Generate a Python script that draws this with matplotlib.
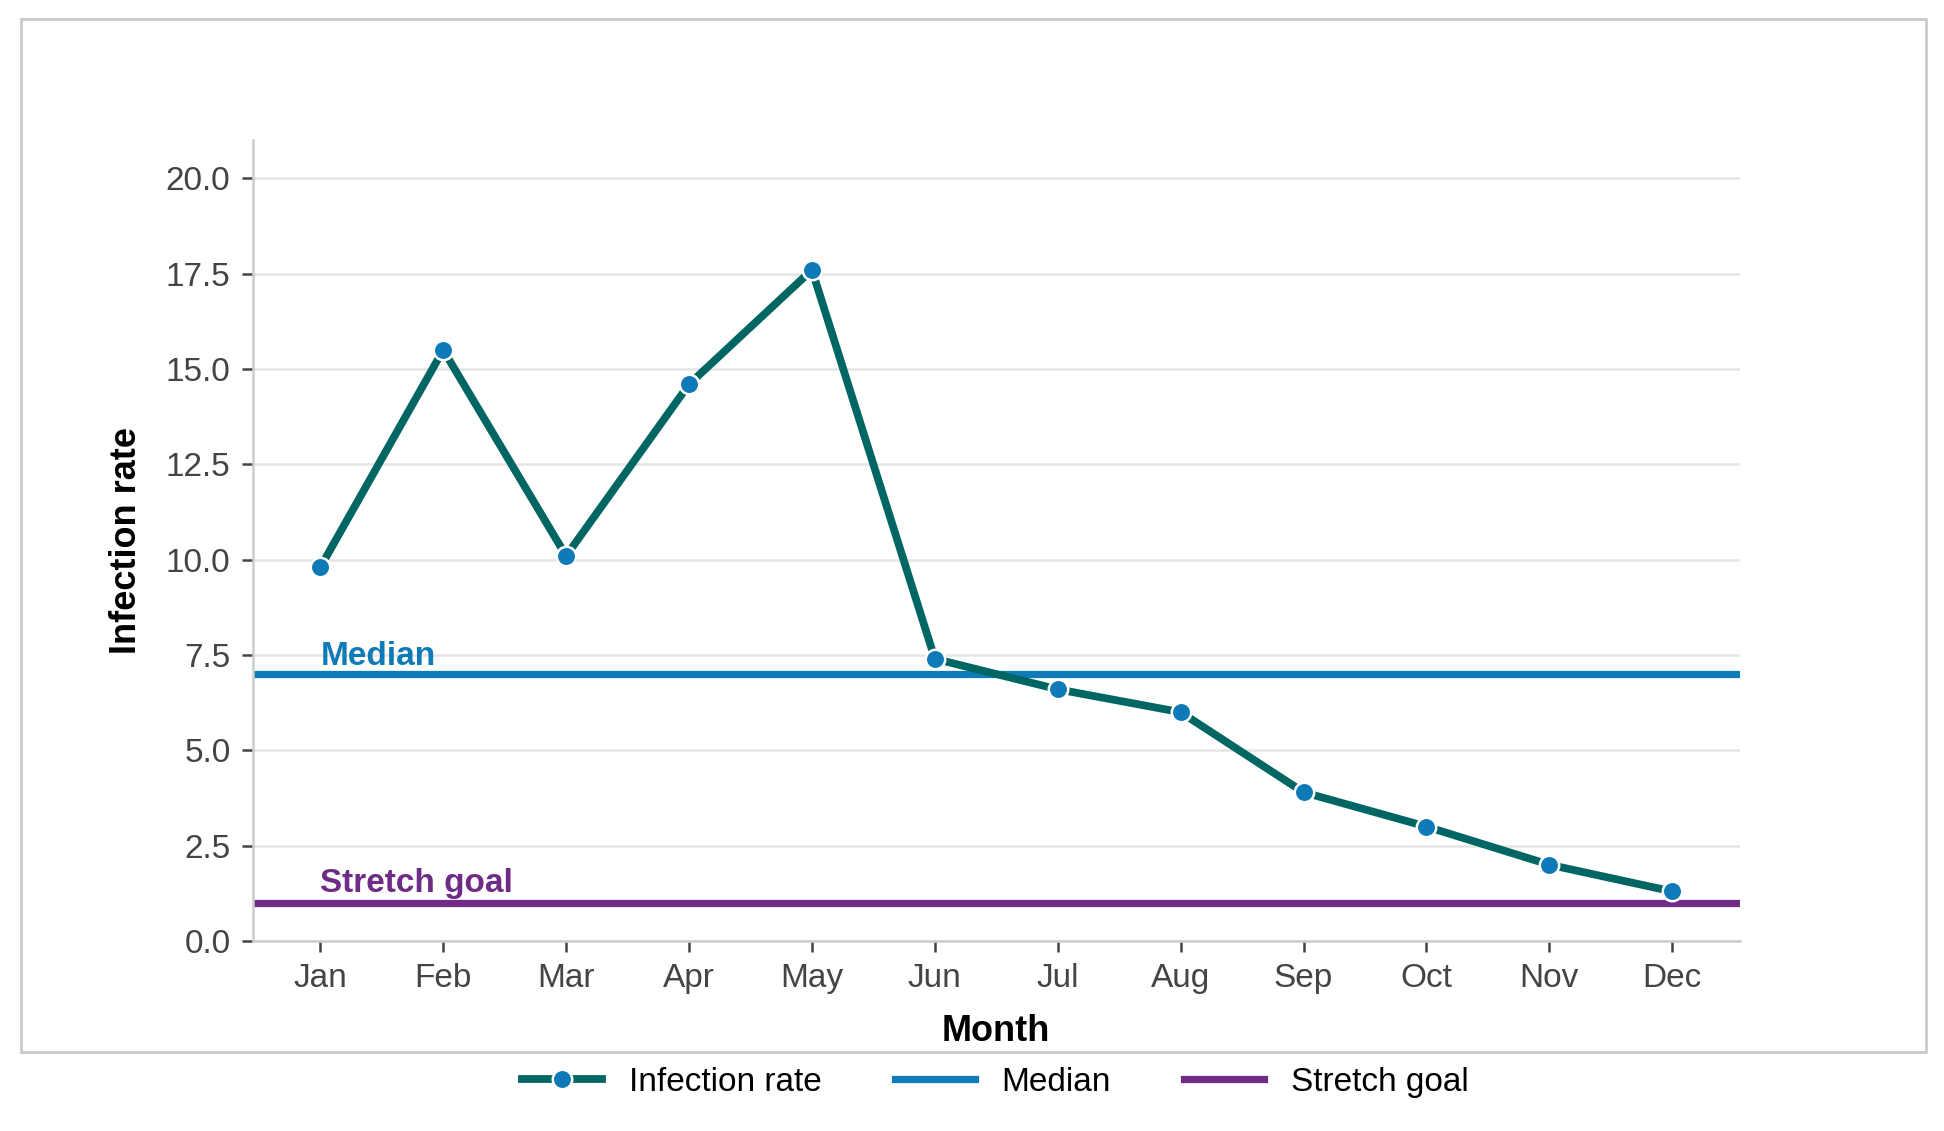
import numpy as np
import matplotlib.pyplot as plt
from matplotlib.patches import Rectangle

plt.rcParams['font.family'] = ['Liberation Sans', 'DejaVu Sans']

months = ['Jan', 'Feb', 'Mar', 'Apr', 'May', 'Jun', 'Jul', 'Aug', 'Sep', 'Oct', 'Nov', 'Dec']
infection_rate = [9.8, 15.5, 10.1, 14.6, 17.6, 7.4, 6.6, 6.0, 3.9, 3.0, 2.0, 1.3]
median_value = 7.0
stretch_goal = 1.0

teal = '#006663'
blue = '#0f7ab8'
purple = '#6f2c87'

fig = plt.figure(figsize=(9.72, 5.655), dpi=200)
ax = fig.add_axes([0.130, 0.168, 0.765, 0.708])

# grey frame round the plot area
fig.patches.append(Rectangle((0.0108, 0.0699), 0.980, 0.913, transform=fig.transFigure,
                             fill=False, edgecolor='#cccccc', linewidth=1.0, zorder=0))

x = np.arange(len(months))
ax.axhline(median_value, color=blue, lw=2.6, zorder=2, label='Median')
ax.axhline(stretch_goal, color=purple, lw=2.6, zorder=2, label='Stretch goal')
ax.plot(x, infection_rate, color=teal, lw=2.8, marker='o', markersize=7,
        markerfacecolor=blue, markeredgecolor='white', markeredgewidth=0.9,
        zorder=3, label='Infection rate')

ax.text(0, median_value + 0.05, 'Median', color=blue, fontsize=12, fontweight='bold',
        ha='left', va='bottom')
ax.text(0, stretch_goal + 0.1, 'Stretch goal', color=purple, fontsize=12, fontweight='bold',
        ha='left', va='bottom')

ax.set_xlim(-0.55, 11.55)
ax.set_ylim(0, 21)
ax.set_yticks(np.arange(0, 20.1, 2.5))
ax.set_yticklabels([f'{v:.1f}' for v in np.arange(0, 20.1, 2.5)])
ax.set_xticks(x)
ax.set_xticklabels(months)

ax.grid(axis='y', color='#e5e5e5', lw=0.9)
ax.set_axisbelow(True)
for s in ['top', 'right']:
    ax.spines[s].set_visible(False)
for s in ['left', 'bottom']:
    ax.spines[s].set_color('#cccccc')
    ax.spines[s].set_linewidth(0.9)
ax.tick_params(colors='#444444', labelsize=12, length=4, width=0.9, pad=4)

ax.set_xlabel('Month', fontsize=13, fontweight='bold', labelpad=7)
ax.set_ylabel('Infection rate', fontsize=13, fontweight='bold', labelpad=8)

h, l = ax.get_legend_handles_labels()
order = [2, 0, 1]
fig.legend([h[i] for i in order], [l[i] for i in order], loc='center',
           bbox_to_anchor=(0.512, 0.043), ncol=3, frameon=False, fontsize=12,
           handlelength=2.4, columnspacing=2.2, handletextpad=0.8)

fig.savefig('out.png', dpi=200, facecolor='white')
